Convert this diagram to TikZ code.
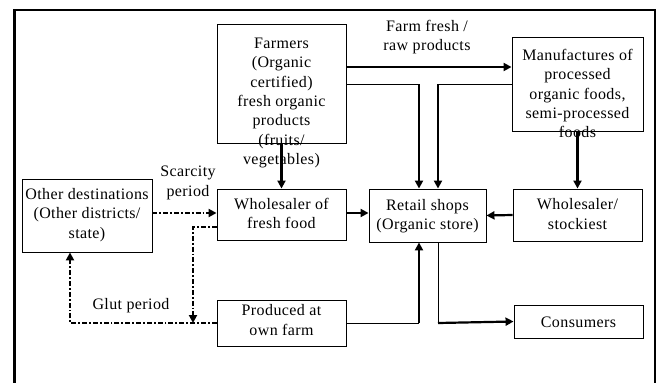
\documentclass[tikz,border=0pt]{standalone}
\usepackage{fontspec}
\setmainfont[LetterSpace=2.5]{Liberation Serif}
\usetikzlibrary{arrows.meta}
\begin{document}
\begin{tikzpicture}[x=1pt,y=-1pt,
  boxn/.style={draw,line width=0.9pt,inner sep=0pt,minimum width=#1},
  txt/.style={align=center,inner sep=0pt,font=\fontsize{16}{19.3}\selectfont},
  thinln/.style={line width=1pt},
  thickarr/.style={line width=2.2pt,-{Triangle[length=8pt,width=8pt]}},
  dasharr/.style={line width=2pt,dash pattern=on 5pt off 2pt on 1.8pt off 2pt,-{Triangle[length=8pt,width=8pt]}}]
\useasboundingbox (0,0) rectangle (659,383);
% frame
\draw[line width=2.6pt] (14.3,384) -- (14.3,9.8) -- (655,9.8) -- (655,384);
% boxes
\node[boxn=129pt,minimum height=119pt] (farmers) at (281.5,83.5) {};
\node[boxn=131pt,minimum height=94pt] (manuf) at (577.5,84) {};
\node[boxn=130pt,minimum height=73pt] (other) at (87,215.5) {};
\node[boxn=129pt,minimum height=51pt] (whf) at (281.5,214.5) {};
\node[boxn=117pt,minimum height=53pt] (retail) at (427.5,215.5) {};
\node[boxn=129pt,minimum height=52pt] (whs) at (577.5,215) {};
\node[boxn=129pt,minimum height=46pt] (prod) at (281.5,323) {};
\node[boxn=129pt,minimum height=33pt] (cons) at (578.5,321.5) {};
% texts
\node[txt] (farmersT) at (281.5,103) {Farmers\\(Organic\\certified)\\fresh organic\\products\\(fruits/\\vegetables)};
\node[txt] (manufT) at (577.5,93.5) {Manufactures of\\processed\\organic foods,\\semi-processed\\foods};
\node[txt] (otherT) at (87,215) {Other destinations\\(Other districts/\\state)};
\node[txt] (whfT) at (281.5,213.5) {Wholesaler of\\fresh food};
\node[txt] (retailT) at (427.5,216) {Retail shops\\(Organic store)};
\node[txt] (whsT) at (577.5,214) {Wholesaler/\\stockiest};
\node[txt] (prodT) at (281.5,320) {Produced at\\own farm};
\node[txt] (consT) at (578.5,322) {Consumers};
% labels
\node[txt] (lab1) at (427,37) {Farm fresh /\\raw products};
\node[txt] (lab2) at (188,183) {Scarcity\\period};
\node[txt] (lab3) at (131,306) {Glut period};
% junctions
\coordinate (j1) at (419,84);
\coordinate (j2) at (438,84);
\coordinate (j3) at (419,323);
\coordinate (j4) at (438,323);
\coordinate (j5) at (193,227);
\coordinate (j6) at (193,323);
\coordinate (j7) at (70,323);
% connectors
\draw[thickarr] (farmers.east |- 0,67) -- (manuf.west |- 0,67);
\draw[thinln] (farmers.east |- j1) -- (j1);
\draw[thickarr] (j1) -- (j1 |- retail.north);
\draw[thinln] (manuf.west |- j2) -- (j2);
\draw[thickarr] (j2) -- (j2 |- retail.north);
\draw[thickarr] (manuf.south) -- (whs.north);
\draw[thickarr] (farmers.south) -- (whf.north);
\draw[thickarr] (whf.east |- 0,213) -- (retail.west |- 0,213);
\draw[thickarr] (whs.west) -- (retail.east);
\draw[thinln] (prod.east |- j3) -- (j3);
\draw[thickarr] (j3) -- (j3 |- retail.south);
\draw[thinln] (j4 |- retail.south) -- (j4);
\draw[thickarr] (j4) -- (cons.west);
\draw[dasharr] (other.east |- 0,213) -- (whf.west |- 0,213);
\draw[dasharr] (whf.west |- j5) -- (j5) -- (j6);
\draw[dasharr] (prod.west |- j7) -- (j7) -- (j7 |- other.south);
\end{tikzpicture}
\end{document}
